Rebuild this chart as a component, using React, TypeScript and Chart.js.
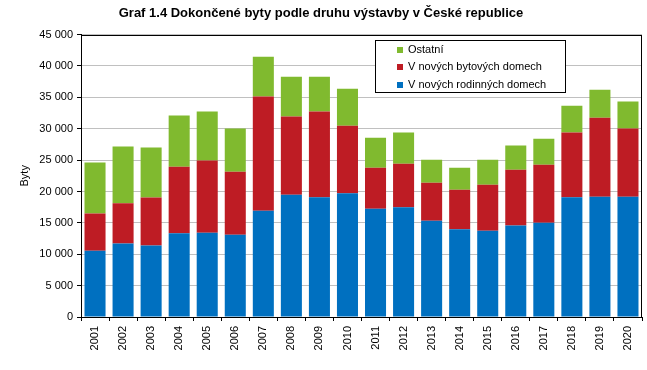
import React, { useEffect, useRef } from "react";
import { Chart, registerables } from "chart.js";

Chart.register(...registerables);

const years = ["2001","2002","2003","2004","2005","2006","2007","2008","2009","2010","2011","2012","2013","2014","2015","2016","2017","2018","2019","2020"];
const rodinneDomy = [10570,11730,11410,13330,13440,13120,16940,19500,19070,19710,17260,17470,15350,13970,13760,14600,15030,19070,19180,19180];
const bytoveDomy = [5940,6380,7650,10630,11480,10040,18180,12430,13660,10780,6540,6970,6060,6320,7330,8880,9250,10310,12590,10840];
const ostatni = [8090,9040,7930,8130,7810,6860,6370,6370,5570,5900,4780,4940,3660,3510,3980,3830,4140,4300,4460,4300];
const seriesNames = ["V nových rodinných domech", "V nových bytových domech", "Ostatní"];
const seriesColors = ["#0070C0", "#BE1C24", "#80BA2F"];

const FONT = '"Liberation Sans", Arial, sans-serif';

const frameAndLegend = {
  id: "frameAndLegend",
  afterDraw(chart: any) {
    const { ctx, chartArea } = chart;
    ctx.save();
    ctx.strokeStyle = "#000";
    ctx.lineWidth = 1;
    ctx.strokeRect(Math.round(chartArea.left) + 0.5, Math.round(chartArea.top) + 0.5,
      Math.round(chartArea.right - chartArea.left) - 1, Math.round(chartArea.bottom - chartArea.top));
    // legend
    const bx = 375, by = 40, bw = 190, bh = 52;
    ctx.fillStyle = "#fff";
    ctx.fillRect(bx, by, bw, bh);
    ctx.strokeRect(bx + 0.5, by + 0.5, bw, bh);
    ctx.font = "11px " + FONT;
    ctx.textBaseline = "middle";
    ctx.textAlign = "left";
    const order = [2, 1, 0];
    order.forEach((i, r) => {
      const cy = 49.5 + r * 17.5;
      ctx.fillStyle = seriesColors[i];
      ctx.fillRect(397, Math.round(cy - 3), 6, 6);
      ctx.fillStyle = "#000";
      ctx.fillText(seriesNames[i], 408, cy);
    });
    ctx.restore();
  },
};

export default function App() {
  const ref = useRef<HTMLCanvasElement>(null);
  useEffect(() => {
    const canvas = ref.current!;
    const chart = new Chart(canvas, {
      type: "bar",
      data: {
        labels: years,
        datasets: [rodinneDomy, bytoveDomy, ostatni].map((d, i) => ({
          label: seriesNames[i],
          data: d,
          backgroundColor: seriesColors[i],
          borderWidth: 0,
          barPercentage: 0.75,
          categoryPercentage: 1,
        })),
      },
      options: {
        responsive: false,
        animation: false,
        devicePixelRatio: 1,
        layout: { padding: { left: 0, right: 5, top: 0, bottom: 0 } },
        plugins: {
          legend: { display: false },
          tooltip: { enabled: false },
          title: {
            display: true,
            text: "Graf 1.4 Dokončené byty podle druhu výstavby v České republice",
            color: "#000",
            font: { family: FONT, size: 13, weight: "bold" },
            padding: { top: 6, bottom: 13 },
          },
        },
        scales: {
          x: {
            stacked: true,
            grid: { offset: true, drawOnChartArea: false, color: "#000", tickColor: "#000", tickLength: 4 },
            border: { color: "#000" },
            ticks: { color: "#000", font: { family: FONT, size: 11 }, minRotation: 90, maxRotation: 90, padding: 5, autoSkip: false },
            afterFit: (s: any) => { s.height = 53; },
          },
          y: {
            stacked: true,
            min: 0,
            max: 45000,
            grid: { color: "#C0C0C0", tickColor: "#000", tickLength: 4 },
            border: { color: "#000" },
            ticks: {
              stepSize: 5000,
              color: "#000",
              font: { family: FONT, size: 11 },
              padding: 4,
              callback: (v: any) => String(v).replace(/\B(?=(\d{3})+(?!\d))/g, " "),
            },
            title: { display: true, text: "Byty", color: "#000", font: { family: FONT, size: 11 }, padding: { top: 18, bottom: 0 } },
            afterFit: (s: any) => { s.width = 81; },
          },
        },
      },
      plugins: [frameAndLegend],
    } as any);
    return () => chart.destroy();
  }, []);
  return (
    <div style={{ position: "absolute", left: 0, top: 0, width: 647, height: 370, background: "#fff" }}>
      <canvas ref={ref} width={647} height={370} />
    </div>
  );
}
